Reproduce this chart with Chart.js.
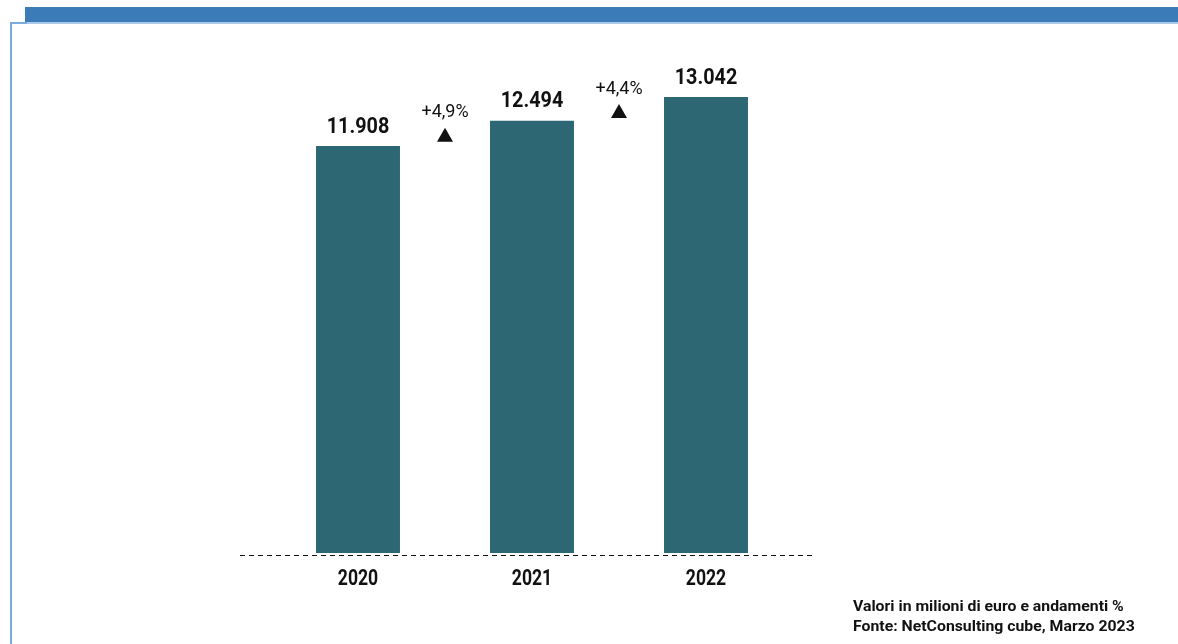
<!DOCTYPE html>
<html>
<head>
<meta charset="utf-8">
<script src="https://cdn.jsdelivr.net/npm/chart.js@4/dist/chart.umd.min.js"></script>
<style>
  html, body { margin: 0; padding: 0; background: #fff; }
  body { width: 1178px; height: 644px; position: relative; overflow: hidden; }
  .topbar { position: absolute; left: 25px; top: 7px; width: 1153px; height: 15px; background: #3a7bb8; border-bottom: 2px solid #a9c9ea; }
  .frame { position: absolute; left: 10px; top: 22px; width: 15px; height: 640px; border-left: 2px solid #7aaddd; border-top: 2px solid #7aaddd; }
  .wrap { position: absolute; left: 0; top: 0; width: 1178px; height: 644px; }
  .note { position: absolute; left: 853px; top: 596px; font-family: "Roboto", sans-serif; font-weight: bold; font-size: 15.5px; line-height: 20px; color: #111; transform: scaleX(1.02); transform-origin: left top; white-space: nowrap; }
</style>
</head>
<body>
<div class="topbar"></div>
<div class="frame"></div>
<div class="wrap"><canvas id="chart" width="1178" height="644"></canvas></div>
<div class="note">Valori in milioni di euro e andamenti %<br>Fonte: NetConsulting cube, Marzo 2023</div>
<script>
const years = ['2020', '2021', '2022'];
const values = [11908, 12494, 13042];
const growth = ['+4,9%', '+4,4%'];

const FONT = '"Roboto", sans-serif';

// draw text squeezed horizontally to look like the condensed face of the original
function narrowText(ctx, txt, x, y, font, sx) {
  ctx.save();
  ctx.font = font;
  ctx.translate(x, y);
  ctx.scale(sx, 1);
  ctx.fillText(txt, 0, 0);
  ctx.restore();
}

// value labels, growth annotations, year labels and dashed baseline
const extras = {
  id: 'extras',
  afterDatasetsDraw(chart) {
    const ctx = chart.ctx;
    const x = chart.scales.x;
    const y = chart.scales.y;
    const area = chart.chartArea;
    ctx.save();

    // dashed baseline
    ctx.strokeStyle = '#111';
    ctx.lineWidth = 1;
    ctx.setLineDash([5, 4]);
    ctx.beginPath();
    ctx.moveTo(area.left - 31, area.bottom + 2.5);
    ctx.lineTo(area.right + 23, area.bottom + 2.5);
    ctx.stroke();
    ctx.setLineDash([]);

    ctx.fillStyle = '#111';
    ctx.textAlign = 'center';
    ctx.textBaseline = 'middle';

    // value labels
    values.forEach((v, i) => {
      narrowText(ctx, v.toLocaleString('it-IT'), x.getPixelForValue(i), y.getPixelForValue(v) - 19,
        'bold 22px ' + FONT, 0.9);
    });

    // year labels
    years.forEach((yr, i) => {
      narrowText(ctx, yr, x.getPixelForValue(i), area.bottom + 26, 'bold 22px ' + FONT, 0.8);
    });

    // growth annotations between bars
    growth.forEach((g, i) => {
      const cx = (x.getPixelForValue(i) + x.getPixelForValue(i + 1)) / 2;
      const top = y.getPixelForValue(values[i + 1]);
      narrowText(ctx, g, cx, top - 8, '18px ' + FONT, 1.0);
      const ty = top + 14;
      ctx.beginPath();
      ctx.moveTo(cx, ty - 7);
      ctx.lineTo(cx + 8, ty + 7);
      ctx.lineTo(cx - 8, ty + 7);
      ctx.closePath();
      ctx.fill();
    });
    ctx.restore();
  }
};

new Chart(document.getElementById('chart'), {
  type: 'bar',
  data: {
    labels: years,
    datasets: [{
      data: values,
      backgroundColor: '#2c6773',
      barPercentage: 0.965,
      categoryPercentage: 0.5
    }]
  },
  options: {
    responsive: false,
    animation: false,
    layout: {
      padding: { left: 271, right: 385, top: 60, bottom: 91 }
    },
    scales: {
      x: { display: false },
      y: {
        display: false,
        min: 2490,
        max: 13900
      }
    },
    plugins: {
      legend: { display: false },
      tooltip: { enabled: false }
    }
  },
  plugins: [extras]
});
</script>
</body>
</html>
